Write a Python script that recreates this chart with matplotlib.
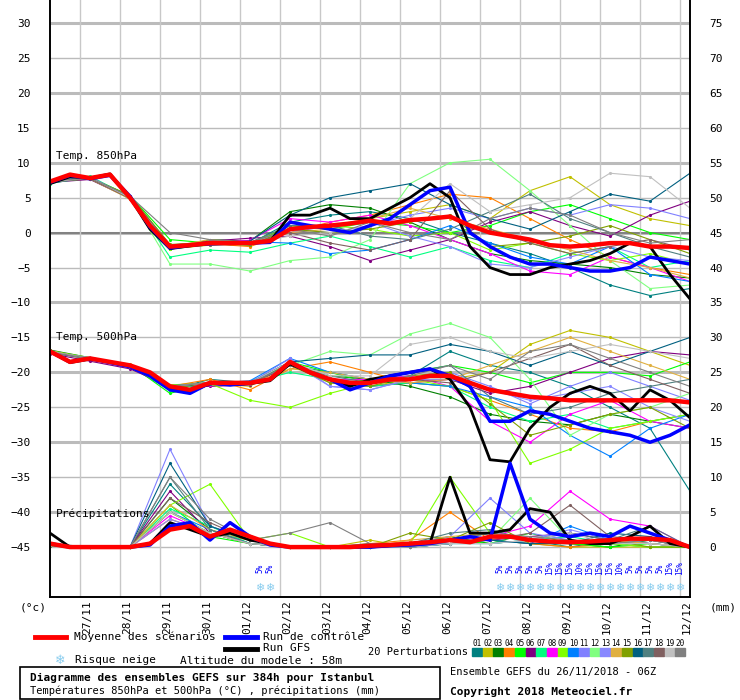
import numpy as np
import matplotlib
matplotlib.use("Agg")
import matplotlib.pyplot as plt
from matplotlib.patches import Rectangle

plt.rcParams["font.family"] = ["DejaVu Sans Mono", "DejaVu Sans"]

# %% data : echeances en heures depuis 26/11 06Z
HOURS_12 = list(range(0, 385, 12))
HOURS_24 = list(range(0, 385, 24))
DATES = ["27/11", "28/11", "29/11", "30/11", "01/12", "02/12", "03/12", "04/12",
         "05/12", "06/12", "07/12", "08/12", "09/12", "10/12", "11/12", "12/12"]

t850_mean = [7.3, 8.3, 7.8, 8.3, 5.0, 1.0, -2.0, -1.8, -1.5, -1.5, -1.5, -1.2, 0.5, 0.8, 1.0, 1.3, 1.7,
             1.3, 1.8, 2.0, 2.3, 1.0, 0.0, -0.5, -1.0, -1.8, -2.0, -1.8, -1.5, -1.5, -2.0, -2.0, -2.2]
t850_ctrl = [7.2, 8.2, 7.7, 8.2, 5.2, 0.8, -2.2, -1.8, -1.6, -1.5, -1.5, -1.4, 1.5, 1.0, 0.5, 0.0, 1.0,
             2.0, 4.0, 6.0, 6.5, 0.0, -2.0, -3.5, -4.5, -4.5, -5.0, -5.5, -5.5, -5.0, -3.5, -4.0, -4.5]
t850_gfs = [7.0, 8.0, 7.8, 8.4, 5.0, 0.5, -2.3, -1.9, -1.5, -1.6, -1.5, -1.3, 2.5, 2.5, 3.5, 2.0, 2.0,
            3.5, 5.0, 7.0, 5.0, -2.0, -5.0, -6.0, -6.0, -5.0, -4.5, -4.0, -3.0, -1.5, -2.0, -6.0, -9.5]

t500_mean = [-17.0, -18.5, -18.0, -18.5, -19.0, -20.0, -22.0, -22.5, -21.5, -21.5, -21.5, -21.0, -18.5,
             -20.0, -21.0, -21.5, -21.5, -21.0, -21.0, -20.5, -20.5, -21.5, -22.5, -23.0, -23.5, -23.7,
             -24.0, -24.0, -24.0, -24.0, -24.0, -24.0, -24.3]
t500_ctrl = [-17.0, -18.5, -18.0, -18.6, -19.2, -20.5, -22.5, -23.0, -21.5, -21.8, -21.5, -21.0, -18.5,
             -20.0, -21.0, -22.5, -21.5, -20.5, -20.0, -19.5, -20.5, -22.0, -27.0, -27.0, -25.5, -26.0,
             -27.0, -28.0, -28.5, -29.0, -30.0, -29.0, -27.5]
t500_gfs = [-17.0, -18.6, -18.1, -18.5, -19.1, -20.3, -22.3, -22.8, -21.6, -21.7, -21.6, -21.2, -18.8,
            -20.0, -21.0, -22.0, -21.0, -20.5, -20.0, -19.5, -21.0, -25.0, -32.5, -32.8, -28.0, -25.0,
            -23.0, -22.0, -23.0, -25.5, -22.5, -24.0, -26.5]

prec_mean = [0.5, 0, 0, 0, 0, 0.5, 2.5, 3.0, 1.5, 2.5, 1.5, 0.5, 0, 0, 0, 0, 0.2,
             0.3, 0.5, 0.7, 1.0, 0.7, 1.5, 1.5, 1.0, 0.8, 0.7, 0.8, 1.0, 1.2, 1.2, 1.0, 0]
prec_ctrl = [0.5, 0, 0, 0, 0, 0.3, 3.0, 3.5, 1.0, 3.5, 1.5, 0.3, 0, 0, 0, 0, 0,
             0.2, 0.3, 0.5, 1.0, 1.5, 1.0, 12.0, 4.0, 2.0, 1.5, 2.0, 1.5, 3.0, 2.0, 1.0, 0]
prec_gfs = [2.0, 0, 0, 0, 0, 0.5, 3.5, 2.5, 1.5, 2.0, 1.0, 0.5, 0, 0, 0, 0, 0,
            0.2, 0.5, 0.5, 10.0, 2.0, 2.0, 2.5, 5.5, 5.0, 1.0, 0.5, 0.5, 1.5, 3.0, 0.5, 0]

PERT_COLORS = ["#008080", "#c0c000", "#008000", "#ff8000", "#00ff00", "#800080", "#00ff80",
               "#ff00ff", "#80ff00", "#0080ff", "#8080ff", "#80ff80", "#8888ff", "#e0b040",
               "#80a000", "#006080", "#508080", "#806060", "#c0c0c0", "#808080"]

t850_pert = [
    [7.2, 7.9, 5.2, -1.8, -1.3, -1.6, 1.5, 2.5, 3.0, 2.0, 0.0, -1.5, -3.0, -5.0, -7.5, -9.0, -8.0],
    [7.4, 7.7, 5.0, -2.2, -1.7, -1.4, 0.5, 1.0, 2.0, 3.0, 4.0, 2.0, 6.0, 8.0, 4.0, 2.0, 1.0],
    [7.1, 8.0, 4.8, -2.4, -1.0, -1.2, 3.0, 4.0, 3.5, 1.5, -1.0, -3.0, -4.0, -4.5, -5.0, -6.0, -6.5],
    [7.3, 7.8, 5.1, -2.0, -1.6, -2.0, 0.0, 1.5, 2.5, 4.0, 5.5, 5.0, 2.0, -1.0, -3.5, -5.0, -6.0],
    [7.5, 7.9, 5.3, -1.0, -1.5, -1.8, 1.0, 0.5, 1.5, 1.0, 0.0, 1.0, 3.0, 4.0, 2.0, 0.0, -1.0],
    [7.2, 7.6, 4.9, -2.1, -1.2, -0.8, -0.5, -2.0, -4.0, -2.5, -1.0, 1.5, 3.0, 1.0, -0.5, 2.5, 4.5],
    [7.0, 8.1, 5.0, -3.5, -2.5, -2.8, -1.5, -0.5, -2.0, -3.5, -2.0, -4.0, -5.0, -3.0, -2.0, -5.0, -4.0],
    [7.4, 7.8, 5.2, -1.8, -1.4, -1.1, 2.0, 1.5, 2.5, 1.0, -1.0, -3.0, -5.5, -6.0, -3.5, -5.0, -7.0],
    [7.3, 7.7, 4.9, -2.3, -1.8, -1.5, 1.0, 1.0, 0.5, -0.5, 0.0, -2.5, -1.5, -3.0, -4.0, -3.0, -4.5],
    [7.1, 7.9, 5.1, -2.0, -1.5, -1.3, -1.5, -3.0, -2.5, -1.0, 1.0, -1.5, -3.5, -4.5, -2.0, -6.0, -7.0],
    [7.4, 8.0, 5.0, -1.9, -1.7, -1.6, 0.5, 0.0, 1.0, 2.5, 3.5, 2.0, 3.5, 2.5, 4.0, 3.5, 2.0],
    [7.2, 7.8, 5.1, -4.5, -4.5, -5.5, -4.0, -3.5, -1.0, 7.0, 10.0, 10.5, 6.0, 1.0, -4.0, -8.0, -7.5],
    [7.3, 7.9, 5.0, -2.1, -1.6, -1.4, 0.0, 1.0, 1.5, -0.5, -2.0, -4.5, -5.0, -3.5, -2.0, -3.5, -4.0],
    [7.5, 7.7, 4.8, -2.0, -1.0, -1.5, 0.0, 0.5, 2.0, 3.5, 2.0, 0.5, -1.0, -2.5, -4.0, -5.0, -6.5],
    [7.2, 7.8, 5.3, -1.7, -1.4, -1.8, 0.5, 0.0, 0.5, 1.5, 2.5, -2.0, -1.5, -0.5, 1.0, -1.0, -3.0],
    [7.4, 7.9, 5.0, -2.2, -1.5, -1.2, 2.5, 5.0, 6.0, 7.0, 4.0, 2.0, 0.5, 3.0, 5.5, 4.5, 8.5],
    [7.1, 7.8, 5.1, -1.9, -1.6, -1.4, 1.0, 1.0, -0.5, -1.0, 0.5, 3.0, 5.5, 2.0, 0.0, -2.0, -3.5],
    [7.3, 7.7, 4.9, -2.0, -1.8, -1.6, 0.0, -1.5, -2.5, -1.0, 6.0, 0.5, -1.5, -3.0, -2.0, -1.0, -2.5],
    [7.2, 7.9, 5.0, -2.1, -1.4, -1.5, -0.5, 0.0, 1.0, 2.0, 7.0, 3.0, 4.0, 5.0, 8.5, 8.0, 3.5],
    [7.4, 7.8, 5.2, 0.0, -1.0, -1.4, 0.5, -0.5, 1.5, 0.0, -1.0, 2.0, 3.5, 2.5, 0.0, -1.5, -1.0],
]

t500_pert = [
    [-17.0, -18.0, -19.2, -22.5, -21.0, -21.5, -19.0, -20.0, -21.0, -20.5, -17.0, -19.0, -20.0, -22.0, -25.0, -28.0, -37.0],
    [-17.2, -18.1, -18.8, -21.8, -21.5, -22.0, -18.5, -21.5, -22.0, -21.0, -21.0, -20.0, -16.0, -14.0, -15.0, -17.0, -19.0],
    [-16.8, -17.9, -19.1, -22.2, -21.8, -21.3, -19.0, -20.5, -21.0, -22.0, -23.5, -26.0, -27.0, -27.5, -26.0, -27.0, -28.0],
    [-17.1, -18.0, -19.0, -22.0, -21.0, -22.5, -19.5, -18.5, -20.0, -21.5, -22.0, -24.0, -26.0, -28.0, -28.5, -27.0, -26.0],
    [-17.0, -18.2, -18.9, -23.0, -21.5, -21.5, -18.5, -20.0, -21.5, -20.0, -19.0, -20.0, -21.5, -20.0, -20.0, -20.5, -18.5],
    [-17.3, -18.4, -19.5, -22.0, -22.0, -21.8, -19.0, -21.0, -22.0, -21.5, -21.0, -23.0, -22.0, -20.0, -18.0, -17.0, -17.5],
    [-17.0, -18.0, -19.0, -22.5, -21.5, -21.5, -20.0, -21.0, -22.0, -21.5, -22.0, -25.0, -27.0, -26.0, -28.0, -27.0, -26.0],
    [-17.1, -18.1, -19.0, -22.0, -21.8, -21.5, -19.0, -21.0, -21.0, -20.5, -22.0, -27.0, -30.0, -26.0, -24.0, -27.0, -28.0],
    [-16.9, -17.9, -19.0, -21.8, -21.6, -24.0, -25.0, -23.0, -21.5, -21.0, -22.0, -24.0, -33.0, -31.0, -28.0, -27.0, -26.0],
    [-17.2, -18.0, -19.1, -22.0, -21.6, -21.2, -18.0, -20.0, -21.0, -21.5, -22.0, -23.5, -25.0, -29.0, -32.0, -28.0, -26.0],
    [-17.0, -18.0, -19.0, -22.0, -21.5, -21.5, -18.0, -22.0, -22.5, -21.0, -20.0, -22.0, -24.5, -22.0, -20.0, -22.0, -24.0],
    [-17.0, -18.1, -19.2, -22.2, -21.4, -21.5, -19.0, -17.0, -17.5, -14.5, -13.0, -15.0, -21.0, -29.0, -26.0, -25.0, -23.0],
    [-17.1, -17.9, -19.0, -22.1, -21.5, -21.4, -18.5, -22.0, -22.5, -21.0, -21.0, -22.5, -24.0, -23.0, -22.0, -25.0, -27.0],
    [-16.9, -18.1, -18.9, -22.0, -21.7, -21.6, -19.5, -20.0, -21.0, -21.5, -21.0, -19.0, -17.0, -15.0, -17.0, -19.0, -21.0],
    [-17.0, -18.0, -19.1, -22.3, -21.5, -21.5, -19.0, -21.5, -22.0, -20.5, -20.0, -24.5, -29.0, -27.5, -26.0, -25.0, -28.0],
    [-17.1, -18.0, -19.0, -22.0, -21.6, -21.5, -18.5, -18.0, -17.5, -17.5, -16.0, -17.0, -19.0, -17.0, -19.0, -17.0, -15.0],
    [-17.0, -18.1, -19.0, -21.9, -21.5, -21.5, -19.0, -20.5, -21.5, -20.0, -19.0, -23.5, -26.0, -25.0, -23.0, -22.0, -21.0],
    [-17.2, -18.0, -19.1, -22.1, -21.4, -21.6, -19.0, -21.0, -21.5, -21.0, -21.5, -20.0, -18.0, -16.0, -19.0, -21.0, -23.0],
    [-17.0, -18.0, -19.0, -22.0, -21.5, -21.5, -18.5, -20.5, -20.5, -16.0, -15.0, -17.0, -18.0, -17.0, -16.0, -17.0, -18.0],
    [-17.1, -18.0, -19.0, -22.0, -21.5, -21.5, -19.0, -21.0, -21.5, -20.5, -19.0, -21.0, -17.0, -16.0, -18.0, -20.0, -22.0],
]

prec_pert = [
    [0.5, 0, 0, 9.0, 3.0, 1.0, 0, 0, 0, 0, 1.0, 2.0, 1.0, 0, 1.0, 0.5, 0],
    [0.3, 0, 0, 5.0, 2.0, 0.5, 0, 0, 1.0, 0, 0.5, 1.0, 0.5, 0, 0, 0, 0],
    [0.4, 0, 0, 7.0, 2.5, 0.5, 0, 0, 0, 0.5, 1.5, 0.5, 1.0, 0.5, 0, 1.0, 0],
    [0.3, 0, 0, 4.0, 2.0, 1.0, 0, 0, 0.5, 1.0, 5.0, 1.0, 0.5, 0, 0.5, 0, 0],
    [0.2, 0, 0, 6.0, 1.5, 0.5, 0, 0, 0, 0, 1.0, 0.5, 2.0, 0.5, 0, 0.5, 0],
    [0.3, 0, 0, 8.0, 2.0, 0.5, 0, 0, 0, 0, 0.5, 1.0, 1.5, 2.0, 1.0, 0.5, 0],
    [0.4, 0, 0, 5.5, 3.0, 0.5, 0, 0, 0, 0, 0.5, 0.5, 1.0, 1.5, 0.5, 0, 0],
    [0.3, 0, 0, 4.5, 2.0, 0.5, 0, 0, 0, 0.5, 1.0, 1.5, 3.0, 8.0, 4.0, 3.0, 0],
    [0.3, 0, 0, 6.0, 9.0, 1.0, 2.0, 0, 0, 0.5, 10.0, 2.0, 1.0, 0.5, 0.5, 0, 0],
    [0.2, 0, 0, 5.0, 2.5, 0.5, 0, 0, 0, 0, 0.5, 1.0, 0.5, 3.0, 1.0, 0.5, 0],
    [0.3, 0, 0, 14.0, 3.0, 1.0, 0, 0, 0, 0.5, 1.5, 7.0, 2.0, 1.0, 0.5, 1.0, 0],
    [0.2, 0, 0, 5.0, 2.0, 0.5, 0, 0, 0, 0, 0.5, 1.0, 7.0, 1.0, 0.5, 0.5, 0],
    [0.3, 0, 0, 4.0, 2.0, 0.5, 0, 0, 0, 0, 0.5, 0.5, 1.0, 2.5, 1.0, 0.5, 0],
    [0.3, 0, 0, 6.0, 2.5, 1.0, 0, 0, 0, 1.0, 1.5, 2.0, 1.0, 0.5, 1.0, 0.5, 0],
    [0.2, 0, 0, 5.0, 2.0, 0.5, 0, 0, 0, 2.0, 1.0, 3.5, 0.5, 0.5, 1.0, 0, 0],
    [0.3, 0, 0, 12.0, 3.0, 1.0, 0, 0, 0, 0, 0.5, 1.0, 0.5, 0.5, 2.0, 1.5, 0],
    [0.3, 0, 0, 10.0, 2.5, 0.5, 0, 0, 0.5, 0.5, 2.0, 2.5, 1.0, 2.0, 1.0, 3.0, 0],
    [0.2, 0, 0, 7.0, 3.5, 1.0, 0, 0, 0, 0.5, 1.0, 1.0, 2.0, 6.0, 1.5, 1.0, 0],
    [0.3, 0, 0, 5.0, 2.0, 0.5, 0, 0, 0, 0, 0.5, 0.5, 1.0, 2.0, 0.5, 0.5, 0],
    [0.4, 0, 0, 10.0, 4.0, 1.0, 2.0, 3.5, 0.5, 0, 1.0, 2.0, 1.5, 1.0, 0.5, 1.0, 0],
]

# risque neige : echeances et probabilites
snow_hours = [126, 132] + list(range(270, 379, 6))
snow_pct = [5, 5, 5, 5, 5, 5, 5, 15, 15, 15, 10, 15, 15, 15, 10, 5, 5, 5, 5, 15, 15]

PREC_OFFSET = -45  # 0 mm sur l'axe de gauche


def hx(h):
    """echeance (h) -> abscisse en jours"""
    return np.asarray(h) / 24.0


# %%
fig = plt.figure(figsize=(7.4, 7.0), dpi=100)
ax = fig.add_axes([50 / 740, 103 / 700, 640 / 740, 597 / 700])
ax.set_xlim(0, 16)
ax.set_ylim(-45 - 50 / 7, 30 + 23 / 7)

for v in range(-45, 31, 5):
    thick = v % 10 == 0
    ax.axhline(v, color="#bbbbbb", lw=2.2 if thick else 1.0, zorder=0)
ax.axhline(0, color="#777777", lw=1.2, zorder=0)
for d in range(16):
    ax.axvline(0.75 + d, color="#c8c8c8", lw=1.0, zorder=0)

# perturbations
for i, c in enumerate(PERT_COLORS):
    kw = dict(color=c, lw=0.8, marker=".", ms=2.5, zorder=2)
    ax.plot(hx(HOURS_24), t850_pert[i], **kw)
    ax.plot(hx(HOURS_24), t500_pert[i], **kw)
    ax.plot(hx(HOURS_24), np.array(prec_pert[i]) + PREC_OFFSET, **kw)

for series, col, lw in [((t850_gfs, t500_gfs, prec_gfs), "black", 2.0),
                        ((t850_ctrl, t500_ctrl, prec_ctrl), "#0000ff", 2.5),
                        ((t850_mean, t500_mean, prec_mean), "#ff0000", 3.2)]:
    ax.plot(hx(HOURS_12), series[0], color=col, lw=lw, zorder=3)
    ax.plot(hx(HOURS_12), series[1], color=col, lw=lw, zorder=3)
    ax.plot(hx(HOURS_12), np.array(series[2]) + PREC_OFFSET, color=col, lw=lw, zorder=3)

ax.text(0.15, 10.3, "Temp. 850hPa", fontsize=8, va="bottom")
ax.text(0.15, -15.7, "Temp. 500hPa", fontsize=8, va="bottom")
ax.text(0.15, -41.0, "Précipitations", fontsize=8, va="bottom")

# risque neige
for h, p in zip(snow_hours, snow_pct):
    ax.text(hx(h), -50.9, "❄", color="#88ccee", fontsize=8, ha="center", va="center",
            family="DejaVu Sans", zorder=4)
    ax.text(hx(h), -48.0, f"{p}%", color="#0000ff", fontsize=5.5, rotation=90,
            ha="center", va="center", zorder=4)

ax.set_yticks(range(-45, 31, 5))
ax.tick_params(axis="y", length=0, labelsize=8, pad=14)
ax.set_xticks([])
axr = ax.twinx()
axr.set_ylim(ax.get_ylim()[0] + 45, ax.get_ylim()[1] + 45)
axr.set_yticks(range(0, 76, 5))
axr.tick_params(axis="y", length=0, labelsize=8, pad=14)
for a in (ax, axr):
    a.spines["top"].set_visible(False)
    a.spines["left"].set_linewidth(1.2)
    a.spines["right"].set_linewidth(1.2)
    a.spines["bottom"].set_linewidth(1.2)

# %% bas de figure (coordonnees pixel)
def px(x, y):
    return x / 740, 1 - y / 700


for d, lab in enumerate(DATES):
    fig.text(*px(80 + 40 * d + 2, 600), lab, rotation=90, fontsize=8, ha="left", va="top")
fig.text(*px(20, 607), "(°c)", fontsize=8, va="center")
fig.text(*px(710, 607), "(mm)", fontsize=8, va="center")

for (x0, x1, y, col) in [(35, 66, 637, "#ff0000"), (225, 257, 637, "#0000ff"), (225, 257, 649, "black")]:
    fig.add_artist(plt.Line2D([x0 / 740, x1 / 740], [1 - y / 700] * 2, color=col, lw=3.5))
fig.text(*px(74, 637), "Moyenne des scénarios", fontsize=8, va="center")
fig.text(*px(263, 637), "Run de contrôle", fontsize=8, va="center")
fig.text(*px(263, 648), "Run GFS", fontsize=8, va="center")
fig.text(*px(60, 660), "❄", fontsize=9, color="#88ccee", ha="center", va="center", family="DejaVu Sans")
fig.text(*px(75, 660), "Risque neige", fontsize=8, va="center")
fig.text(*px(180, 661), "Altitude du modele : 58m", fontsize=8, va="center")
fig.text(*px(368, 652), "20 Perturbations", fontsize=7.5, va="center")
for i, c in enumerate(PERT_COLORS):
    x0 = 472 + i * 10.7
    fig.add_artist(Rectangle(px(x0, 656), 10 / 740, 8 / 700, color=c))
    fig.text(*px(x0 + 5, 643), f"{i + 1:02d}", fontsize=5.5, ha="center", va="center")

fig.add_artist(Rectangle(px(20, 699), 420 / 740, 32 / 700, fill=False, lw=1.2, ec="black"))
fig.text(*px(30, 678), "Diagramme des ensembles GEFS sur 384h pour Istanbul", fontsize=8,
         weight="bold", va="center")
fig.text(*px(30, 691), "Températures 850hPa et 500hPa (°C) , précipitations (mm)", fontsize=7.5,
         va="center")
fig.text(*px(450, 672), "Ensemble GEFS du 26/11/2018 - 06Z", fontsize=7.5, va="center")
fig.text(*px(450, 692), "Copyright 2018 Meteociel.fr", fontsize=8, weight="bold", va="center")

fig.savefig("out.png", dpi=100)
